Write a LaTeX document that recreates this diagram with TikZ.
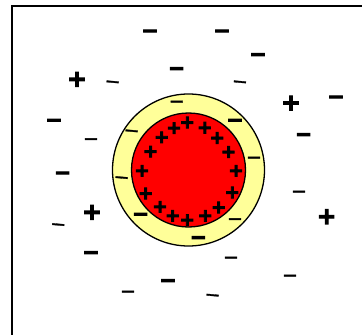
\documentclass[tikz,border=0pt]{standalone}
\usepackage{fontspec}
\newfontfamily\chgfont[FakeBold=1.5]{DejaVu Sans}
\newfontfamily\chgheavy[FakeBold=5]{DejaVu Sans Bold}
\definecolor{ringyellow}{HTML}{FFFF99}
\definecolor{corered}{HTML}{FF0000}
\newcommand{\chg}[1]{\makebox[10pt]{\raisebox{-0.36em}[0pt][0pt]{#1}}}

\begin{document}
\begin{tikzpicture}[
    x=1pt, y=-1pt,
    sign/.style={inner sep=0pt, text height=4pt, text depth=4pt},
    plusbig/.style={sign, font=\chgheavy\fontsize{18}{24}\selectfont},
    plushuge/.style={sign, font=\chgheavy\fontsize{23}{24}\selectfont},
    minusbig/.style={sign, font=\chgheavy\fontsize{20}{24}\selectfont},
    minussmall/.style={sign, font=\chgfont\fontsize{19}{24}\selectfont},
    minusslant/.style={minussmall, rotate=-5}
]
    \useasboundingbox (0,0) rectangle (362,335);
    % frame, cut off at right and bottom
    \draw[line width=2pt] (12,6) rectangle (380,350);

    % charged sphere and its layer
    \draw[line width=1.3pt, fill=ringyellow] (188.5,170) circle (76);
    \draw[line width=1.3pt, fill=corered] (188.5,170) circle (57);

    % charges on the sphere
    \foreach \x/\y [count=\i] in {187.3/121.7, 174/127.3, 204.8/127, 161.7/136.5,
        217.2/137.2, 150.5/150.8, 228.5/151.2, 142/170, 236/170, 145.7/192.7,
        232.3/191.7, 160/206, 218.7/206.7, 172.7/215, 187.3/219.3, 205.3/215}
        \node[plusbig] (p\i) at (\x,\y) {\chg{+}};

    % free charges
    \foreach \x/\y [count=\i] in {77/78.3, 291/102, 92/211.3, 326.7/215.7}
        \node[plushuge] (q\i) at (\x,\y) {\chg{+}};
    \foreach \x/\y [count=\i] in {150/30, 222/30, 258/53.7, 176.7/67.7, 336/96,
        54/119.3, 303.7/133.7, 62.7/172, 91/251.7, 168/279.7,
        235/119.3, 140.7/213.3, 198.3/236.7}
        \node[minusbig] (m\i) at (\x,\y) {\chg{−}};
    \foreach \x/\y [count=\i] in {91/138.3, 299/190.7, 231/256.7, 290/274.7,
        128/290.7, 176.7/100.7, 254/156.7, 235/218.3}
        \node[minussmall] (n\i) at (\x,\y) {\chg{−}};
    \foreach \x/\y [count=\i] in {112.7/81, 240/81, 58.3/223.7, 212.7/294.3,
        131.7/130, 121.7/176.7}
        \node[minusslant] (s\i) at (\x,\y) {\chg{−}};
\end{tikzpicture}
\end{document}
